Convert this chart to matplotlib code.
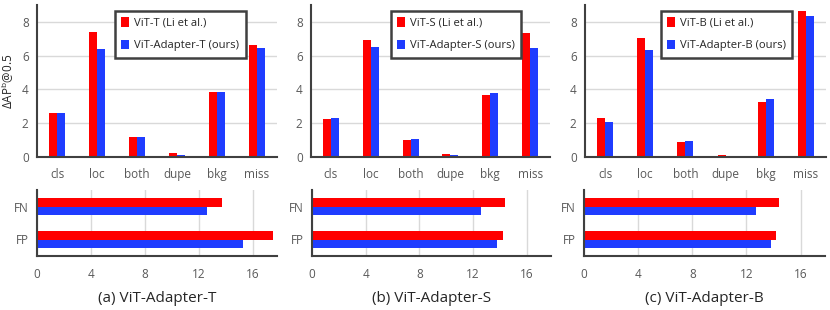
import numpy as np
import matplotlib.pyplot as plt

plt.rcParams["font.family"] = ["Open Sans", "DejaVu Sans"]
plt.rcParams["mathtext.fontset"] = "custom"
plt.rcParams["mathtext.rm"] = "Open Sans"

# Data
categories = ["cls", "loc", "both", "dupe", "bkg", "miss"]
err_types = ["FP", "FN"]
panel_titles = ["(a) ViT-Adapter-T", "(b) ViT-Adapter-S", "(c) ViT-Adapter-B"]
vit_labels = ["ViT-T (Li et al.)", "ViT-S (Li et al.)", "ViT-B (Li et al.)"]
adapter_labels = ["ViT-Adapter-T (ours)", "ViT-Adapter-S (ours)", "ViT-Adapter-B (ours)"]

vit_t = [2.58, 7.38, 1.19, 0.26, 3.83, 6.61]
adapter_t = [2.58, 6.41, 1.19, 0.14, 3.85, 6.45]
vit_s = [2.26, 6.90, 0.99, 0.18, 3.67, 7.34]
adapter_s = [2.32, 6.53, 1.09, 0.10, 3.77, 6.45]
vit_b = [2.28, 7.06, 0.91, 0.12, 3.23, 8.65]
adapter_b = [2.10, 6.33, 0.97, 0.08, 3.45, 8.37]

# FP, FN
vit_t_fpfn = [17.5, 13.7]
adapter_t_fpfn = [15.3, 12.6]
vit_s_fpfn = [14.2, 14.4]
adapter_s_fpfn = [13.8, 12.6]
vit_b_fpfn = [14.2, 14.4]
adapter_b_fpfn = [13.8, 12.7]

red = "#ff0000"
blue = "#1f3cff"
spine_col = "#404040"
grid_col = "#d9d9d9"
tick_col = "#595959"

W, H = 830, 310
fig = plt.figure(figsize=(8.3, 3.1), dpi=100)

top_lefts = [37, 311, 585]
bot_lefts = [37, 312, 584]
widths = [240, 239, 241]
leg_x = [0.30, 0.31, 0.29]

tops = [(vit_t, adapter_t), (vit_s, adapter_s), (vit_b, adapter_b)]
bots = [(vit_t_fpfn, adapter_t_fpfn), (vit_s_fpfn, adapter_s_fpfn), (vit_b_fpfn, adapter_b_fpfn)]


def style(ax):
    for s in ["top", "right"]:
        ax.spines[s].set_visible(False)
    for s in ["left", "bottom"]:
        ax.spines[s].set_color(spine_col)
        ax.spines[s].set_linewidth(1.5)
    ax.tick_params(length=0, labelsize=8.5, labelcolor=tick_col, pad=6)
    ax.set_axisbelow(True)


for i in range(3):
    # top chart
    ax = fig.add_axes([top_lefts[i] / W, 1 - 157 / H, widths[i] / W, 152 / H])
    x = np.arange(len(categories))
    v, a = tops[i]
    ax.bar(x - 0.1, v, width=0.2, color=red, label=vit_labels[i])
    ax.bar(x + 0.1, a, width=0.2, color=blue, label=adapter_labels[i])
    ax.set_xlim(-0.5, 5.5)
    ax.set_ylim(0, 9)
    ax.set_yticks([0, 2, 4, 6, 8])
    ax.set_xticks(x)
    ax.set_xticklabels(categories)
    ax.yaxis.grid(True, color=grid_col, linewidth=1)
    style(ax)
    ax.tick_params(axis="x", pad=8)
    leg = ax.legend(loc="upper left", bbox_to_anchor=(leg_x[i], 1.0), fontsize=8.1,
                    handlelength=0.7, handleheight=0.9, handletextpad=0.4,
                    labelspacing=0.95, borderpad=0.6, fancybox=False,
                    framealpha=1, labelcolor="#262626")
    leg.get_frame().set_edgecolor(spine_col)
    leg.get_frame().set_linewidth(1.8)
    if i == 0:
        ax.set_ylabel(r"$\Delta$AP$^{\mathrm{b}}$@0.5", fontsize=8.5, color="#262626", labelpad=4)

    # bottom chart
    bx = fig.add_axes([bot_lefts[i] / W, 1 - 256 / H, widths[i] / W, 66 / H])
    y = np.arange(len(err_types))
    v2, a2 = bots[i]
    bx.barh(y + 0.125, v2, height=0.25, color=red)
    bx.barh(y - 0.125, a2, height=0.25, color=blue)
    bx.set_ylim(-0.5, 1.5)
    bx.set_xlim(0, 17.8)
    bx.set_xticks([0, 4, 8, 12, 16])
    bx.set_yticks(y)
    bx.set_yticklabels(err_types)
    bx.xaxis.grid(True, color=grid_col, linewidth=1)
    style(bx)
    bx.tick_params(axis="x", pad=9)
    bx.set_xlabel(panel_titles[i], fontsize=11, color="#262626", labelpad=7)

fig.savefig("out.png", dpi=100)
